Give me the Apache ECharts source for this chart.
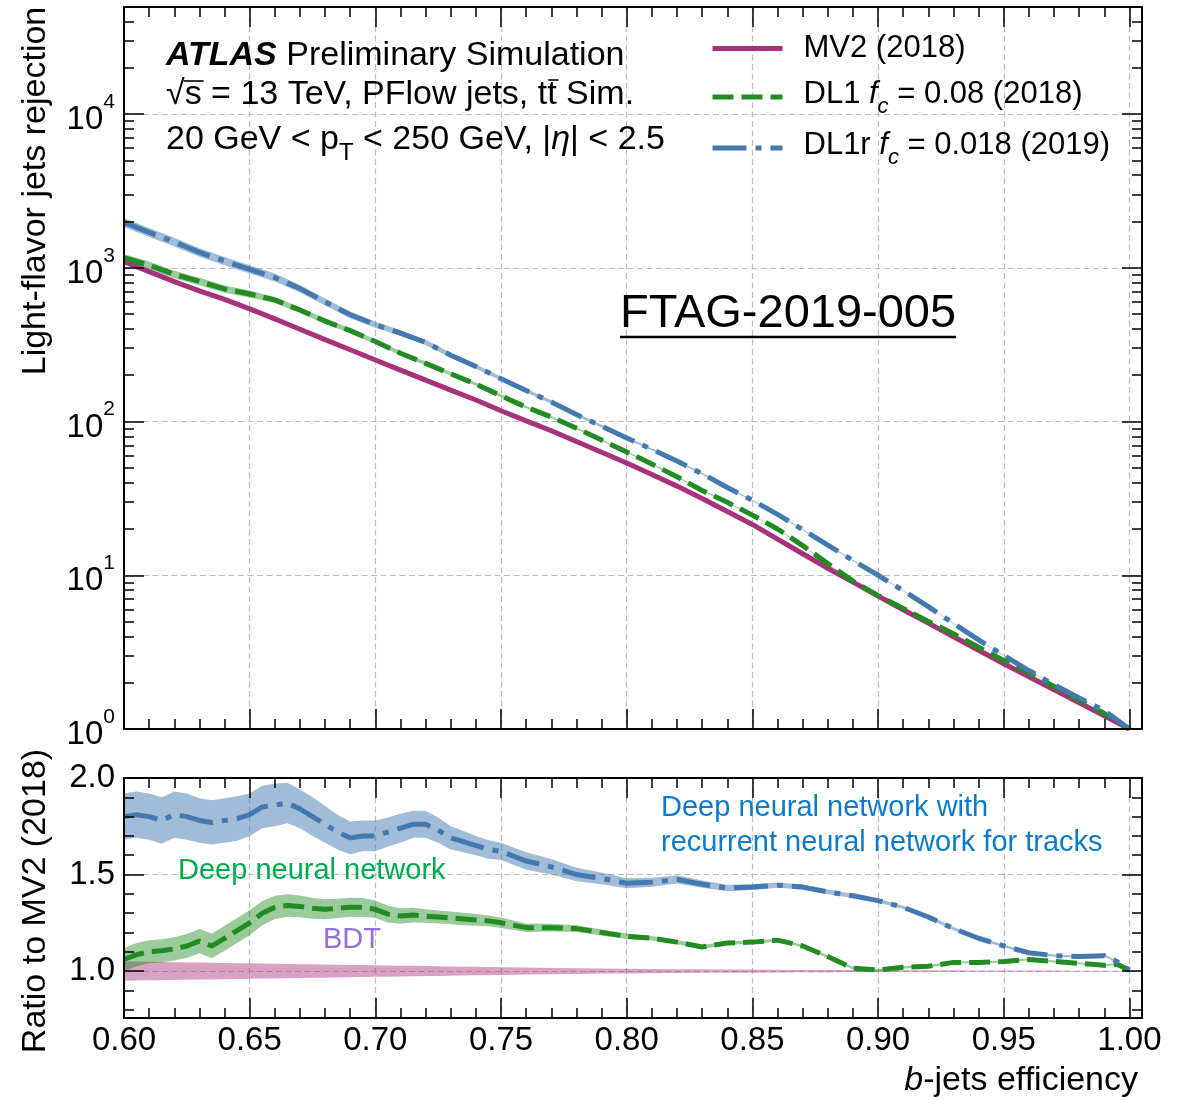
<!DOCTYPE html>
<html><head><meta charset="utf-8">
<script src="https://cdn.jsdelivr.net/npm/echarts@6/dist/echarts.min.js"></script>
<style>html,body{margin:0;padding:0;background:#fff}#c{width:1188px;height:1100px}</style>
</head><body><div id="c"></div>
<script>
// ---------------- data ----------------
const effTop = [0.60,0.61,0.62,0.63,0.64,0.65,0.66,0.67,0.68,0.69,0.70,0.71,0.72,0.73,0.74,0.75,0.76,0.77,0.78,0.79,0.80,
                0.81,0.82,0.83,0.84,0.85,0.86,0.87,0.88,0.89,0.90,0.91,0.92,0.93,0.94,0.95,0.96,0.97,0.98,0.99,1.00];
const mv2Rej = [1096,944,813,708,622,540,465,398,341,293,251,216,186,160,138,117.5,101,87.1,74.1,63.1,53.7,
                45.2,38.0,31.6,26.0,21.4,17.2,13.8,11.1,9.02,7.33,5.97,4.88,3.98,3.25,2.66,2.19,1.80,1.48,1.22,1.0];
const dl1Rej = [1162,1038,906,814,728,675,618,531,450,390,331,278,239,204,175,147,124,107,90.4,75.7,63.4,
                52.9,43.7,35.6,29.8,24.6,20.0,15.6,11.9,9.16,7.37,6.09,5.00,4.16,3.40,2.79,2.32,1.89,1.54,1.26,1.0];
const dl1rRej = [1973,1699,1472,1260,1107,977,865,732,600,495,427,376,327,270,228,190,159,134,111,93.4,78.1,
                 66.0,55.3,45.8,37.2,30.7,24.9,19.8,15.7,12.5,10.0,7.94,6.25,4.86,3.80,3.01,2.40,1.94,1.59,1.32,1.0];
const dl1RelErr = [0.057,0.057,0.056,0.056,0.055,0.052,0.046,0.042,0.038,0.038,0.034,0.031,0.027,0.025,0.024,0.022,0.018,0.016,0.015,0.013,0.012,
                   0.010,0.010,0.009,0.008,0.007,0.007,0.006,0.006,0.006,0.006,0.005,0.005,0.005,0.005,0.005,0.005,0.005,0.005,0.005,0.005];
const dl1rRelErr = [0.067,0.066,0.065,0.064,0.063,0.061,0.059,0.056,0.053,0.050,0.047,0.043,0.040,0.036,0.032,0.028,0.028,0.026,0.023,0.020,0.018,
                    0.016,0.014,0.012,0.011,0.010,0.010,0.009,0.009,0.008,0.007,0.007,0.007,0.006,0.006,0.006,0.005,0.005,0.005,0.005,0.005];

const effRatio = [0.600,0.605,0.610,0.615,0.620,0.625,0.630,0.635,0.640,0.645,0.650,0.655,0.660,0.665,0.670,0.675,0.680,0.685,0.690,0.695,
                  0.700,0.705,0.710,0.715,0.720,0.725,0.730,0.735,0.740,0.745,0.750,
                  0.76,0.77,0.78,0.79,0.80,0.81,0.82,0.83,0.84,0.85,0.86,0.87,0.88,0.89,0.90,0.91,0.92,0.93,0.94,0.95,0.96,0.97,0.98,0.99,0.995,1.00];
const dl1Ratio = [1.06,1.085,1.10,1.105,1.115,1.13,1.155,1.13,1.17,1.21,1.25,1.30,1.33,1.34,1.335,1.325,1.32,1.325,1.33,1.33,
                  1.32,1.295,1.285,1.29,1.285,1.28,1.275,1.27,1.265,1.26,1.25,
                  1.225,1.225,1.22,1.20,1.18,1.17,1.15,1.125,1.145,1.15,1.16,1.13,1.075,1.015,1.005,1.02,1.025,1.045,1.045,1.05,1.06,1.05,1.04,1.03,1.035,1.005];
const dl1rRatio = [1.80,1.81,1.80,1.78,1.81,1.80,1.78,1.77,1.78,1.79,1.81,1.85,1.86,1.87,1.84,1.80,1.76,1.72,1.69,1.70,
                   1.70,1.72,1.74,1.76,1.76,1.73,1.69,1.67,1.65,1.63,1.62,
                   1.57,1.54,1.50,1.48,1.455,1.46,1.475,1.45,1.43,1.435,1.445,1.435,1.41,1.39,1.365,1.33,1.28,1.22,1.17,1.13,1.095,1.08,1.075,1.08,1.05,1.005];
const mv2RatioErr = [0.050,0.049,0.048,0.047,0.046,0.045,0.044,0.043,0.042,0.041,0.040,0.039,0.038,0.037,0.036,0.035,0.034,0.033,0.032,0.031,
                     0.030,0.029,0.028,0.027,0.026,0.025,0.024,0.023,0.022,0.021,0.020,
                     0.018,0.016,0.015,0.013,0.012,0.011,0.010,0.009,0.008,0.008,0.007,0.006,0.006,0.005,0.005,0.004,0.004,0.004,0.003,0.003,0.003,0.003,0.002,0.002,0.002,0.002];
const dl1RatioErr = [0.060,0.060,0.060,0.060,0.060,0.062,0.063,0.064,0.065,0.065,0.065,0.063,0.060,0.058,0.056,0.054,0.052,0.050,0.050,0.048,
                     0.045,0.043,0.040,0.038,0.035,0.034,0.033,0.032,0.030,0.028,0.027,
                     0.022,0.020,0.018,0.016,0.014,0.012,0.011,0.010,0.009,0.008,0.008,0.007,0.007,0.007,0.006,0.006,0.006,0.006,0.005,0.005,0.005,0.005,0.005,0.005,0.005,0.005];
const dl1rRatioErr = [0.120,0.120,0.120,0.120,0.120,0.120,0.115,0.115,0.115,0.115,0.110,0.110,0.110,0.105,0.100,0.100,0.095,0.090,0.085,0.080,
                      0.080,0.075,0.075,0.070,0.070,0.065,0.060,0.055,0.050,0.048,0.045,
                      0.045,0.040,0.035,0.030,0.026,0.023,0.021,0.019,0.017,0.015,0.014,0.013,0.012,0.011,0.010,0.009,0.009,0.008,0.008,0.007,0.007,0.006,0.006,0.006,0.005,0.005];

const seriesNames = ['MV2 (2018)', 'DL1 fc=0.08 (2018)', 'DL1r fc=0.018 (2019)'];
const xMajor = [0.60,0.65,0.70,0.75,0.80,0.85,0.90,0.95,1.00];
const xTickLabels = ['0.60','0.65','0.70','0.75','0.80','0.85','0.90','0.95','1.00'];
const yTopDecades = [0,1,2,3,4];           // exponents of 10
const ratioMajor = [1.0,1.5,2.0];
const ratioTickLabels = ['1.0','1.5','2.0'];
const ratioMinor = [0.8,0.9,1.1,1.2,1.3,1.4,1.6,1.7,1.8,1.9];

// ---------------- helpers ----------------
const FONT = '"Liberation Sans", Arial, Helvetica, sans-serif';
const C_MV2 = '#a8327a', C_DL1 = '#228b22', C_DL1R = '#4479b0';
const F_MV2 = 'rgba(168,50,122,0.45)', F_DL1 = 'rgba(34,139,34,0.45)', F_DL1R = 'rgba(68,121,176,0.5)';
const DASH_DL1 = [21, 8], DASH_DL1R = [34, 9, 6, 9];
const X_MIN = 0.6, X_MAX = 1.005, TOP_MAX = 4.696, R_MIN = 0.757, R_MAX = 2.0;

const lg = Math.log10;
const yTopMinor = [];
yTopDecades.forEach(n => { for (let k = 2; k <= 9; k++) { const v = lg(k) + n; if (v < TOP_MAX) yTopMinor.push(v); } });

const topLine = arr => effTop.map((x, i) => [x, lg(arr[i])]);
const rLine = arr => effRatio.map((x, i) => [x, arr[i]]);

function lineS(name, xi, yi, data, color, dash, z) {
  return { name, type: 'line', xAxisIndex: xi, yAxisIndex: yi, data, symbol: 'none', showSymbol: false, silent: true, z,
    animation: false, lineStyle: { color, width: 5, type: dash, cap: 'butt', join: 'round' }, itemStyle: { color } };
}
// uncertainty band: one filled polygon through (x, lo) and (x, hi), placed by the axes' own scales
function bandC(xi, yi, xs, lo, hi, fill, z) {
  const data = xs.map((x, i) => [x, lo[i], hi[i]]);
  return { type: 'custom', xAxisIndex: xi, yAxisIndex: yi, data, z, silent: true, animation: false, clip: true,
    encode: { x: 0, y: [1, 2] },
    renderItem: (params, api) => {
      if (params.dataIndexInside !== 0) return null;
      const up = [], dn = [];
      for (let i = 0; i < data.length; i++) {
        up.push(api.coord([data[i][0], data[i][2]]));
        dn.push(api.coord([data[i][0], data[i][1]]));
      }
      return { type: 'polygon', shape: { points: up.concat(dn.reverse()) }, style: { fill, stroke: null } };
    } };
}
const topBand = (arr, e) => [effTop.map((x, i) => lg(arr[i] * (1 - e[i]))), effTop.map((x, i) => lg(arr[i] * (1 + e[i])))];
const rBand = (c, e) => [effRatio.map((x, i) => (c ? c[i] : 1) - e[i]), effRatio.map((x, i) => (c ? c[i] : 1) + e[i])];

const TICK = { color: '#000', width: 1.5 };
const GRIDLINE = { show: true, lineStyle: { color: '#bdbdbd', width: 1.2, type: [6, 3.5] } };
function xGridAxis(gi) {
  return { type: 'value', gridIndex: gi, min: X_MIN, max: X_MAX, interval: 0.05, position: 'bottom', z: 0,
    axisLine: { show: false, onZero: false }, axisTick: { show: false, customValues: xMajor }, axisLabel: { show: false },
    splitLine: GRIDLINE };
}
function xFrameAxis(gi, pos, labels) {
  return { type: 'value', gridIndex: gi, min: X_MIN, max: X_MAX, interval: 0.05, position: pos, z: 5,
    axisLine: { show: true, onZero: false, lineStyle: { color: '#000', width: 2 } },
    axisTick: { show: true, inside: true, length: 20, customValues: xMajor, lineStyle: TICK },
    minorTick: { show: true, splitNumber: 5, length: 10, lineStyle: TICK },
    splitLine: { show: false },
    axisLabel: labels ? { show: true, customValues: xMajor, margin: 6, color: '#000', fontSize: 33, fontFamily: FONT,
      hideOverlap: false, formatter: v => xTickLabels[xMajor.findIndex(m => Math.abs(m - v) < 1e-6)] || '' } : { show: false } };
}
function yAxisGen(gi, min, max, pos, major, opts) {
  return Object.assign({ type: 'value', gridIndex: gi, min, max, position: pos, z: 5,
    axisLine: { show: false, onZero: false }, axisTick: { show: true, inside: true, length: 20, customValues: major, lineStyle: TICK },
    axisLabel: { show: false }, splitLine: { show: false } }, opts || {});
}

const topYLabel = {
  show: true, customValues: yTopDecades, margin: 9, color: '#000', fontFamily: FONT, hideOverlap: false,
  formatter: v => '{b|10}{s|' + Math.round(v) + '}',
  rich: { b: { fontSize: 33, fontFamily: FONT, color: '#000', lineHeight: 45, verticalAlign: 'bottom' },
          s: { fontSize: 21, fontFamily: FONT, color: '#000', lineHeight: 45, verticalAlign: 'top' } }
};
const ratioYLabel = {
  show: true, customValues: ratioMajor, margin: 9, color: '#000', fontSize: 33, fontFamily: FONT, hideOverlap: false,
  formatter: v => ratioTickLabels[ratioMajor.findIndex(m => Math.abs(m - v) < 1e-6)] || ''
};

const xAxes = [
  xGridAxis(0), xFrameAxis(0, 'bottom', false), xFrameAxis(0, 'top', false),
  xGridAxis(1), xFrameAxis(1, 'bottom', true), xFrameAxis(1, 'top', false)
];
const FRAMELINE = { show: true, onZero: false, lineStyle: { color: '#000', width: 2 } };
const minorTickOpt = vals => ({ axisTick: { show: true, inside: true, length: 10, customValues: vals, lineStyle: TICK } });
const yAxes = [
  yAxisGen(0, 0, TOP_MAX, 'left', yTopDecades, { z: 0, axisTick: { show: false, customValues: yTopDecades }, splitLine: GRIDLINE }),
  yAxisGen(0, 0, TOP_MAX, 'left', yTopDecades, { axisLine: FRAMELINE, axisLabel: topYLabel }),
  yAxisGen(0, 0, TOP_MAX, 'left', yTopMinor, minorTickOpt(yTopMinor)),
  yAxisGen(0, 0, TOP_MAX, 'right', yTopDecades, { axisLine: FRAMELINE }),
  yAxisGen(0, 0, TOP_MAX, 'right', yTopMinor, minorTickOpt(yTopMinor)),
  yAxisGen(1, R_MIN, R_MAX, 'left', ratioMajor, { z: 0, axisTick: { show: false, customValues: ratioMajor }, splitLine: GRIDLINE }),
  yAxisGen(1, R_MIN, R_MAX, 'left', ratioMajor, { axisLine: FRAMELINE, axisLabel: ratioYLabel }),
  yAxisGen(1, R_MIN, R_MAX, 'left', ratioMinor, minorTickOpt(ratioMinor)),
  yAxisGen(1, R_MIN, R_MAX, 'right', ratioMajor, { axisLine: FRAMELINE }),
  yAxisGen(1, R_MIN, R_MAX, 'right', ratioMinor, minorTickOpt(ratioMinor))
];

const b1 = topBand(dl1Rej, dl1RelErr), b2 = topBand(dl1rRej, dl1rRelErr);
const r0 = rBand(null, mv2RatioErr), r1 = rBand(dl1Ratio, dl1RatioErr), r2 = rBand(dl1rRatio, dl1rRatioErr);
const series = [
  lineS(seriesNames[0], 0, 0, topLine(mv2Rej), C_MV2, 'solid', 2),
  bandC(0, 0, effTop, b1[0], b1[1], F_DL1, 2),
  lineS(seriesNames[1], 0, 0, topLine(dl1Rej), C_DL1, DASH_DL1, 2),
  bandC(0, 0, effTop, b2[0], b2[1], F_DL1R, 2),
  lineS(seriesNames[2], 0, 0, topLine(dl1rRej), C_DL1R, DASH_DL1R, 2),
  bandC(3, 5, effRatio, r0[0], r0[1], F_MV2, 2),
  bandC(3, 5, effRatio, r1[0], r1[1], F_DL1, 2),
  lineS('DL1 ratio', 3, 5, rLine(dl1Ratio), C_DL1, DASH_DL1, 2),
  bandC(3, 5, effRatio, r2[0], r2[1], F_DL1R, 2),
  lineS('DL1r ratio', 3, 5, rLine(dl1rRatio), C_DL1R, DASH_DL1R, 2)
];

// legend (one component per row)
const LH = 42;
const legRich = {
  n0: { fontSize: 31, fontFamily: FONT, color: '#000', lineHeight: LH, verticalAlign: 'top', padding: [3, 0, 0, 16] },
  n: { fontSize: 31, fontFamily: FONT, color: '#000', lineHeight: LH, verticalAlign: 'top', padding: [3, 0, 0, 0] },
  i: { fontSize: 31, fontFamily: FONT, color: '#000', fontStyle: 'italic', lineHeight: LH, verticalAlign: 'top', padding: [3, 0, 0, 0] },
  s: { fontSize: 22, fontFamily: FONT, color: '#000', fontStyle: 'italic', lineHeight: LH, verticalAlign: 'bottom' },
  m: { fontSize: 31, fontFamily: FONT, color: '#000', lineHeight: 31, padding: [0, 0, 0, 16] }
};
const legendTexts = {};
legendTexts[seriesNames[0]] = '{m|MV2 (2018)}';
legendTexts[seriesNames[1]] = '{n0|DL1 }{i|f}{s|c}{n| = 0.08 (2018)}';
legendTexts[seriesNames[2]] = '{n0|DL1r }{i|f}{s|c}{n| = 0.018 (2019)}';
const legendTops = [33, 97 - LH / 2, 148 - LH / 2];
const legends = seriesNames.map((nm, k) => ({
  data: [nm], left: 710, top: legendTops[k], orient: 'vertical', padding: 0, itemWidth: 70, itemHeight: 14,
  selectedMode: false, formatter: n => legendTexts[n], lineStyle: { width: 5 },
  itemStyle: { opacity: 0, color: 'rgba(0,0,0,0)', borderWidth: 0 },
  textStyle: { fontSize: 31, fontFamily: FONT, color: '#000', rich: legRich }
}));

// text measuring for decorations (overlines / underline)
const mctx = document.createElement('canvas').getContext('2d');
function tw(t, size, extra) { mctx.font = (extra || '') + ' ' + size + 'px "Liberation Sans"'; return mctx.measureText(t).width; }
const L2X = 166, L2Y = 95;
const sqrtW = tw('√', 34), sW = tw('s', 34);
const preT = tw('√s = 13 TeV, PFlow jets, t', 34), tW = tw('t', 34);
const ftagW = tw('FTAG-2019-005', 47);

const T = (x, y, text, extra) => ({ type: 'text', x, y, silent: true, z: 100,
  style: Object.assign({ text, fontSize: 34, fontFamily: FONT, fill: '#000', align: 'left', verticalAlign: 'middle' }, extra || {}) });
const graphic = [
  T(166, 56, '{b|ATLAS} Preliminary Simulation', { rich: { b: { fontSize: 34, fontFamily: FONT, fontWeight: 'bold', fontStyle: 'italic', fill: '#000' } } }),
  T(L2X, L2Y, '√s = 13 TeV, PFlow jets, tt Sim.'),
  { type: 'line', silent: true, z: 100, shape: { x1: L2X + sqrtW - 1, y1: 81, x2: L2X + sqrtW + sW + 2, y2: 81 }, style: { stroke: '#000', lineWidth: 1.6 } },
  { type: 'line', silent: true, z: 100, shape: { x1: L2X + preT + 1, y1: 80, x2: L2X + preT + tW + 2, y2: 80 }, style: { stroke: '#000', lineWidth: 1.6 } },
  T(166, 144, '{n|20 GeV < p}{sub|T}{n| < 250 GeV, |}{i|η}{n|| < 2.5}', { rich: {
    n: { fontSize: 34, fontFamily: FONT, fill: '#000', lineHeight: 42, verticalAlign: 'top' },
    i: { fontSize: 34, fontFamily: FONT, fill: '#000', fontStyle: 'italic', lineHeight: 42, verticalAlign: 'top' },
    sub: { fontSize: 24, fontFamily: FONT, fill: '#000', lineHeight: 42, verticalAlign: 'bottom' } } }),
  T(620, 314, 'FTAG-2019-005', { fontSize: 47 }),
  { type: 'line', silent: true, z: 100, shape: { x1: 620, y1: 337, x2: 620 + ftagW, y2: 337 }, style: { stroke: '#000', lineWidth: 2.5 } },
  T(36, 191, 'Light-flavor jets rejection', { align: 'center' }),
  T(36, 901, 'Ratio to MV2 (2018)', { align: 'center' }),
  T(1138, 1081, '{i|b}-jets efficiency', { align: 'right', rich: { i: { fontSize: 34, fontFamily: FONT, fontStyle: 'italic', fill: '#000' } } }),
  T(178, 871, 'Deep neural network', { fontSize: 29, fill: '#00ad4e' }),
  T(323, 940, 'BDT', { fontSize: 29, fill: '#9370db' }),
  T(661, 808, 'Deep neural network with', { fontSize: 29, fill: '#0b7bcf' }),
  T(661, 843, 'recurrent neural network for tracks', { fontSize: 29, fill: '#0b7bcf' })
];
graphic[7].rotation = Math.PI / 2;
graphic[8].rotation = Math.PI / 2;

const chart = echarts.init(document.getElementById('c'), null, { renderer: 'canvas' });
chart.setOption({
  backgroundColor: '#fff',
  animation: false,
  grid: [
    { left: 124, right: 46, top: 7, height: 722, containLabel: false, outerBoundsMode: 'none' },
    { left: 124, right: 46, top: 778, height: 240, containLabel: false, outerBoundsMode: 'none' }
  ],
  xAxis: xAxes,
  yAxis: yAxes,
  legend: legends,
  series,
  graphic
});
</script></body></html>
